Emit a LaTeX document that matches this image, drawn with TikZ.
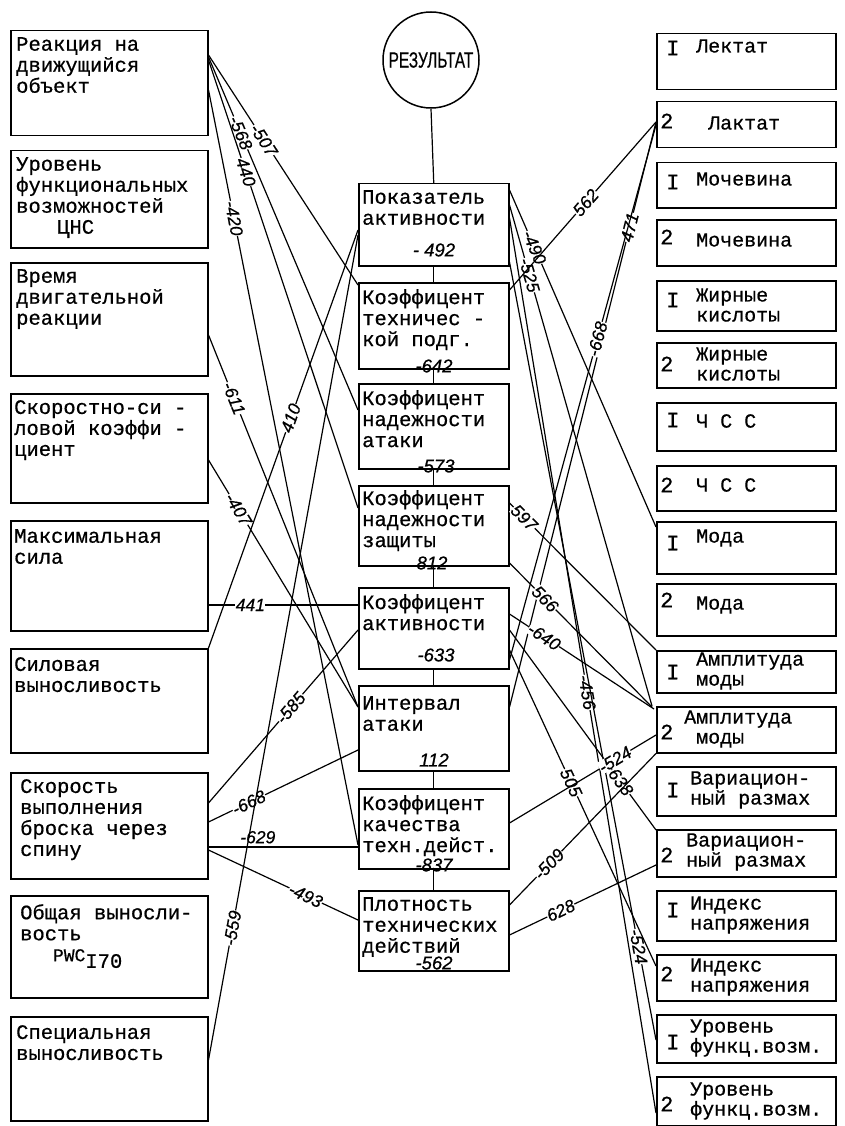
\documentclass[tikz,border=0pt]{standalone}
\usepackage{fontspec}
\setmainfont{Liberation Mono}
\newfontfamily\tw{Liberation Mono}[FakeBold=0.6]
\newfontfamily\numfont{Liberation Sans}[FakeBold=0.6]
\usetikzlibrary{calc}
\begin{document}
\begin{tikzpicture}[x=1pt,y=-1pt,
  box/.style={draw, line width=1.5pt, inner sep=0pt, anchor=north west},
  lbox/.style={box, minimum width=197pt},
  cbox/.style={box, minimum width=150pt},
  rbox/.style={box, minimum width=179pt},
  btext/.style={anchor=north west, align=left, inner sep=0pt, font=\tw\fontsize{20.5}{21}\selectfont},
  rtext/.style={anchor=west, align=left, inner sep=0pt, font=\tw\fontsize{20}{20}\selectfont},
  rnum/.style={anchor=west, inner sep=0pt, font=\tw\fontsize{22}{22}\selectfont},
  link/.style={line width=1.2pt},
  lbl/.style={font=\numfont\itshape\fontsize{17.5}{17.5}\selectfont, fill=white, inner sep=0.3pt, sloped},
  cval/.style={font=\numfont\itshape\fontsize{18.5}{18.5}\selectfont, inner sep=0pt}
]
\useasboundingbox (0,0) rectangle (845,1126);

% ---------- left column ----------
\node[lbox, minimum height=105pt] (L1) at (10,30) {};
\node[lbox, minimum height=97pt]  (L2) at (10,150) {};
\node[lbox, minimum height=113pt] (L3) at (10,262) {};
\node[lbox, minimum height=109pt] (L4) at (10,393) {};
\node[lbox, minimum height=110pt] (L5) at (10,520) {};
\node[lbox, minimum height=104pt] (L6) at (10,648) {};
\node[lbox, minimum height=106pt] (L7) at (10,772) {};
\node[lbox, minimum height=102pt] (L8) at (10,895) {};
\node[lbox, minimum height=104pt] (L9) at (10,1016) {};

\node[btext] (tL1) at ($(L1.north west)+(6,7)$) {Реакция на\\движущийся\\объект};
\node[btext] (tL2) at ($(L2.north west)+(6,7)$) {Уровень\\функциональных\\возможностей\\\hspace*{2em}ЦНС};
\node[btext] (tL3) at ($(L3.north west)+(6,7)$) {Время\\двигательной\\реакции};
\node[btext] (tL4) at ($(L4.north west)+(4,7)$) {Скоростно-си -\\ловой коэффи -\\циент};
\node[btext] (tL5) at ($(L5.north west)+(4,9)$) {Максимальная\\сила};
\node[btext] (tL6) at ($(L6.north west)+(4,9)$) {Силовая\\выносливость};
\node[btext] (tL7) at ($(L7.north west)+(10,7)$) {Скорость\\выполнения\\броска через\\спину};
\node[btext] (tL8) at ($(L8.north west)+(10,9)$) {Общая выносли-\\вость\\\hspace*{1.6em}{\fontsize{18}{18}\selectfont PWC}\raisebox{-0.32em}{I70}};
\node[btext] (tL9) at ($(L9.north west)+(6,9)$) {Специальная\\выносливость};

% ---------- centre column ----------
\node[circle, draw, line width=1.5pt, minimum size=96pt, inner sep=0pt] (res) at (431,60)
  {\scalebox{0.7}[1]{\numfont\fontsize{22}{22}\selectfont РЕЗУЛЬТАТ}};
\node[cbox, minimum height=82pt] (C1) at (358,183) {};
\node[cbox, minimum height=86pt] (C2) at (358,282) {};
\node[cbox, minimum height=85pt] (C3) at (358,383) {};
\node[cbox, minimum height=80pt] (C4) at (358,485) {};
\node[cbox, minimum height=81pt] (C5) at (358,587) {};
\node[cbox, minimum height=85pt] (C6) at (358,685) {};
\node[cbox, minimum height=80pt] (C7) at (358,788) {};
\node[cbox, minimum height=80pt] (C8) at (358,890) {};

\node[btext] (tC1) at ($(C1.north west)+(4,7)$) {Показатель\\ активности};
\node[btext] (tC2) at ($(C2.north west)+(4,7)$) {Коэффицент\\техничес -\\кой подг.};
\node[btext] (tC3) at ($(C3.north west)+(4,7)$) {Коэффицент\\надежности\\атаки};
\node[btext] (tC4) at ($(C4.north west)+(4,5)$) {Коэффицент\\надежности\\защиты};
\node[btext] (tC5) at ($(C5.north west)+(4,7)$) {Коэффицент\\активности};
\node[btext] (tC6) at ($(C6.north west)+(4,11)$) {Интервал\\атаки};
\node[btext] (tC7) at ($(C7.north west)+(4,7)$) {Коэффицент\\качества\\техн.дейст.};
\node[btext] (tC8) at ($(C8.north west)+(4,7)$) {Плотность\\технических\\действий};

\node[cval] (v1) at ($(C1.north west)+(76,67)$) {- 492};
\node[cval] (v2) at ($(C2.north west)+(76,84)$) {-642};
\node[cval] (v3) at ($(C3.north west)+(78,83)$) {-573};
\node[cval] (v4) at ($(C4.north west)+(74,78)$) {812};
\node[cval] (v5) at ($(C5.north west)+(78,68)$) {-633};
\node[cval] (v6) at ($(C6.north west)+(76,75)$) {112};
\node[cval] (v7) at ($(C7.north west)+(76,77)$) {-837};
\node[cval] (v8) at ($(C8.north west)+(76,73)$) {-562};

\draw[link] (res.south) -- (C1.north);
\draw[link] (C1.south) -- (C2.north);
\draw[link] (C2.south) -- (C3.north);
\draw[link] (C3.south) -- (C4.north);
\draw[link] (C4.south) -- (C5.north);
\draw[link] (C5.south) -- (C6.north);
\draw[link] (C6.south) -- (C7.north);
\draw[link] (C7.south) -- (C8.north);

% ---------- right column ----------
\node[rbox, minimum height=56pt] (R1) at (656,33) {};
\node[rbox, minimum height=46pt] (R2) at (656,101) {};
\node[rbox, minimum height=45pt] (R3) at (656,162) {};
\node[rbox, minimum height=46pt] (R4) at (656,219) {};
\node[rbox, minimum height=50pt] (R5) at (656,280) {};
\node[rbox, minimum height=45pt] (R6) at (656,342) {};
\node[rbox, minimum height=48pt] (R7) at (656,402) {};
\node[rbox, minimum height=45pt] (R8) at (656,465) {};
\node[rbox, minimum height=52pt] (R9) at (656,521) {};
\node[rbox, minimum height=52pt] (R10) at (656,583) {};
\node[rbox, minimum height=42pt] (R11) at (656,650) {};
\node[rbox, minimum height=46pt] (R12) at (656,706) {};
\node[rbox, minimum height=49pt] (R13) at (656,766) {};
\node[rbox, minimum height=47pt] (R14) at (656,829) {};
\node[rbox, minimum height=50pt] (R15) at (656,890) {};
\node[rbox, minimum height=46pt] (R16) at (656,954) {};
\node[rbox, minimum height=48pt] (R17) at (656,1014) {};
\node[rbox, minimum height=49pt] (R18) at (656,1076) {};

\node[rnum] (n1) at ($(R1.north west)+(10,15)$) {I};
\node[rtext] (r1) at ($(R1.north west)+(40,13)$) {Лектат};
\node[rnum] (n2) at ($(R2.north west)+(4,20)$) {2};
\node[rtext] (r2) at ($(R2.north west)+(52,22)$) {Лактат};
\node[rnum] (n3) at ($(R3.north west)+(10,20)$) {I};
\node[rtext] (r3) at ($(R3.north west)+(40,17)$) {Мочевина};
\node[rnum] (n4) at ($(R4.north west)+(4,18)$) {2};
\node[rtext] (r4) at ($(R4.north west)+(40,21)$) {Мочевина};
\node[rnum] (n5) at ($(R5.north west)+(10,20)$) {I};
\node[rtext] (r5) at ($(R5.north west)+(40,25)$) {Жирные\\кислоты};
\node[rnum] (n6) at ($(R6.north west)+(4,22)$) {2};
\node[rtext] (r6) at ($(R6.north west)+(40,22)$) {Жирные\\кислоты};
\node[rnum] (n7) at ($(R7.north west)+(10,18)$) {I};
\node[rtext] (r7) at ($(R7.north west)+(40,19)$) {Ч С С};
\node[rnum] (n8) at ($(R8.north west)+(4,20)$) {2};
\node[rtext] (r8) at ($(R8.north west)+(40,20)$) {Ч С С};
\node[rnum] (n9) at ($(R9.north west)+(10,22)$) {I};
\node[rtext] (r9) at ($(R9.north west)+(40,17)$) {Мода};
\node[rnum] (n10) at ($(R10.north west)+(4,17)$) {2};
\node[rtext] (r10) at ($(R10.north west)+(40,22)$) {Мода};
\node[rnum] (n11) at ($(R11.north west)+(10,22)$) {I};
\node[rtext] (r11) at ($(R11.north west)+(40,21)$) {Амплитуда\\моды};
\node[rnum] (n12) at ($(R12.north west)+(4,26)$) {2};
\node[rtext] (r12) at ($(R12.north west)+(28,23)$) {Амплитуда\\\ моды};
\node[rnum] (n13) at ($(R13.north west)+(10,24)$) {I};
\node[rtext] (r13) at ($(R13.north west)+(34,24)$) {Вариацион-\\ный размах};
\node[rnum] (n14) at ($(R14.north west)+(4,26)$) {2};
\node[rtext] (r14) at ($(R14.north west)+(30,23)$) {Вариацион-\\ный размах};
\node[rnum] (n15) at ($(R15.north west)+(10,20)$) {I};
\node[rtext] (r15) at ($(R15.north west)+(34,25)$) {Индекс\\напряжения};
\node[rnum] (n16) at ($(R16.north west)+(4,20)$) {2};
\node[rtext] (r16) at ($(R16.north west)+(34,23)$) {Индекс\\напряжения};
\node[rnum] (n17) at ($(R17.north west)+(10,28)$) {I};
\node[rtext] (r17) at ($(R17.north west)+(34,24)$) {Уровень\\функц.возм.};
\node[rnum] (n18) at ($(R18.north west)+(4,28)$) {2};
\node[rtext] (r18) at ($(R18.north west)+(34,25)$) {Уровень\\функц.возм.};

% ---------- left connectors ----------
\draw[link] ($(L1.north east)+(0,25)$) -- node[lbl,pos=0.37]{-507} ($(C2.north west)+(0,3)$);
\draw[link] ($(L1.north east)+(0,27)$) -- node[lbl,pos=0.215]{-568} ($(C3.north west)+(0,27)$);
\draw[link] ($(L1.north east)+(0,30)$) -- node[lbl,pos=0.25]{440} ($(C4.north west)+(0,23)$);
\draw[link] ($(L1.north east)+(0,60)$) -- node[lbl,pos=0.17]{-420} ($(C7.north west)+(0,57)$);
\draw[link] ($(L3.north east)+(0,73)$) -- node[lbl,pos=0.17]{-611} ($(C6.north west)+(0,22)$);
\draw[link] ($(L4.north east)+(0,67)$) -- node[lbl,pos=0.2]{-407} ($(C6.north west)+(0,22)$);
\draw[link] ($(L5.north east)+(0,85)$) -- node[lbl,pos=0.28]{441} ($(C5.north west)+(0,18)$);
\draw[link] (L6.north east) -- node[lbl,pos=0.55]{410} ($(C1.north west)+(0,47)$);
\draw[link] ($(L7.north east)+(0,31)$) -- node[lbl,pos=0.55]{-585} ($(C5.north west)+(0,43)$);
\draw[link] ($(L7.north east)+(0,50)$) -- node[lbl,pos=0.27]{-668} ($(C6.north west)+(0,65)$);
\draw[link] ($(L7.north east)+(0,75)$) -- node[pos=0.33, above, font=\numfont\itshape\fontsize{17.5}{17.5}\selectfont, inner sep=3pt]{-629} ($(C7.north west)+(0,59)$);
\draw[link] ($(L7.north east)+(0,78)$) -- node[lbl,pos=0.65]{-493} ($(C8.north west)+(0,30)$);
\draw[link] ($(L9.north east)+(0,44)$) -- node[lbl,pos=0.16]{-559} ($(C1.north west)+(0,52)$);

% ---------- right connectors ----------
\draw[link] ($(C1.north east)+(0,7)$) -- node[lbl,pos=0.17]{-490} ($(R9.north west)+(0,6)$);
\draw[link] ($(C1.north east)+(0,22)$) -- node[lbl,pos=0.14]{-525} ($(R12.north west)+(-4,0)$);
\draw[link] ($(C1.north east)+(0,35)$) -- node[lbl,pos=0.53]{-456} ($(R18.north west)+(0,37)$);
\draw[link] ($(C1.north east)+(0,79)$) -- node[lbl,pos=0.88]{-524} ($(R17.north west)+(0,26)$);
\draw[link] ($(C2.north east)+(0,8)$) -- node[lbl,pos=0.52]{562} ($(R2.north west)+(0,21)$);
\draw[link] ($(C6.north east)+(0,22)$) -- node[lbl,pos=0.82]{471} ($(R2.north west)+(0,21)$);
\draw[link] ($(C5.north east)+(0,73)$) -- node[lbl,pos=0.6]{-668} ($(R2.north west)+(0,24)$);
\draw[link] ($(C4.north east)+(0,18)$) -- node[lbl,pos=0.1]{597} ($(R11.north west)+(0,0)$);
\draw[link] ($(C4.north east)+(0,78)$) -- node[lbl,pos=0.25]{566} ($(R12.north west)+(-4,1)$);
\draw[link] ($(C5.north east)+(0,27)$) -- node[lbl,pos=0.24]{-640} ($(R12.north west)+(-2,3)$);
\draw[link] ($(C5.north east)+(0,43)$) -- node[lbl,pos=0.76]{638} ($(R14.north west)+(0,1)$);
\draw[link] ($(C5.north east)+(0,63)$) -- node[lbl,pos=0.42]{505} ($(R16.north west)+(0,12)$);
\draw[link] ($(C7.north east)+(0,35)$) -- node[lbl,pos=0.72]{-524} ($(R12.north west)+(0,29)$);
\draw[link] ($(C8.north east)+(0,15)$) -- node[lbl,pos=0.27]{-509} (R12.south west);
\draw[link] ($(C8.north east)+(0,45)$) -- node[lbl,pos=0.35]{628} ($(R14.north west)+(0,36)$);
\end{tikzpicture}
\end{document}
